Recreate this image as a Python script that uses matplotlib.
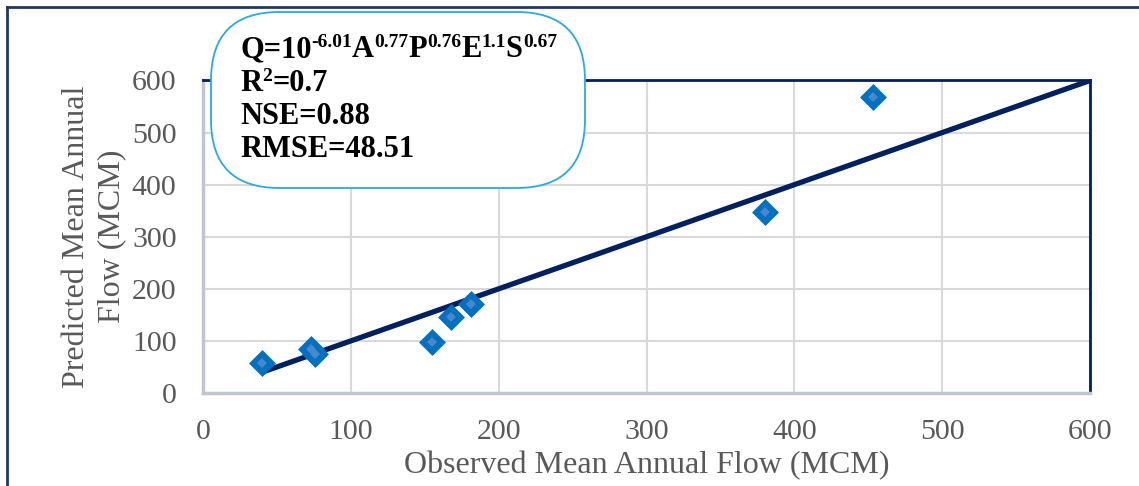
import matplotlib
matplotlib.use("Agg")
import matplotlib.pyplot as plt
from matplotlib.patches import FancyBboxPatch
from matplotlib.lines import Line2D

observed = [40, 73, 76, 155, 168, 181, 380, 453]
predicted = [57, 84, 74, 97, 145, 170, 348, 569]
line_x = [40, 600]
line_y = [40, 600]
ticks = [0, 100, 200, 300, 400, 500, 600]
xlabel = "Observed Mean Annual Flow (MCM)"
ylabel = "Predicted Mean Annual\nFlow (MCM)"
# (text, is_superscript)
eq_line1 = [("Q=10", False), ("-6.01", True), ("A", False), ("0.77", True),
            ("P", False), ("0.76", True), ("E", False), ("1.1", True),
            ("S", False), ("0.67", True)]
eq_line2 = [("R", False), ("2", True), ("=0.7", False)]
eq_line3 = [("NSE=0.88", False)]
eq_line4 = [("RMSE=48.51", False)]

plt.rcParams['font.family'] = ['Liberation Serif', 'DejaVu Serif']

W, H = 1139, 486
fig = plt.figure(figsize=(W / 100, H / 100), dpi=100)
ax = fig.add_axes([203 / W, 1 - 393 / H, 887 / W, 312.5 / H])

ax.set_xlim(0, 600)
ax.set_ylim(0, 600)
ax.set_xticks(ticks)
ax.set_yticks(ticks)
ax.grid(True, color='#d9d9d9', linewidth=1.5)
ax.set_axisbelow(True)
ax.tick_params(length=0, labelsize=21.5, colors='#595959')
ax.tick_params(axis='y', pad=19)
ax.tick_params(axis='x', pad=19)
for s in ['left', 'bottom']:
    ax.spines[s].set_color('#bfc5d2')
    ax.spines[s].set_linewidth(2.5)
for s in ['top', 'right']:
    ax.spines[s].set_color('#002060')
    ax.spines[s].set_linewidth(2)

ax.plot(line_x, line_y, color='#002060', linewidth=3.8, solid_capstyle='butt', zorder=3)
ax.plot(observed, predicted, linestyle='none', marker='D', markersize=11,
        markerfacecolor='#0070c0', markeredgecolor='#0070c0', markeredgewidth=2.5,
        zorder=4)
ax.plot(observed, predicted, linestyle='none', marker='D', markersize=5,
        markerfacecolor='#4a86c8', markeredgewidth=0, zorder=5)

ax.set_xlabel(xlabel, fontsize=23, color='#595959', labelpad=4)
ax.set_ylabel(ylabel, fontsize=23, color='#595959', labelpad=4, linespacing=1.3)

# annotation box
box = FancyBboxPatch((211 / W, 1 - 188 / H), 374 / W, 176 / H,
                     boxstyle="round,pad=0,rounding_size=0.06",
                     transform=fig.transFigure, facecolor='white',
                     edgecolor='#29abe2', linewidth=1.3, zorder=10,
                     mutation_aspect=W / H)
fig.add_artist(box)

renderer = fig.canvas.get_renderer()
base_size = 22
sup_size = 14
baselines = [57, 91, 124, 157]
for pieces, yb in zip([eq_line1, eq_line2, eq_line3, eq_line4], baselines):
    x = 240.0
    for s, sup in pieces:
        ypix = H - yb + (10 if sup else 0)
        t = fig.text(x / W, ypix / H, s, fontsize=sup_size if sup else base_size,
                     fontweight='bold', color='black', va='baseline', ha='left',
                     zorder=11)
        bb = t.get_window_extent(renderer=renderer)
        x = bb.x1

# outer frame (left and top)
fig.add_artist(Line2D([7 / W, 7 / W], [0, 1 - 7 / H], transform=fig.transFigure,
                      color='#1f3864', linewidth=2))
fig.add_artist(Line2D([7 / W, 1], [1 - 7 / H, 1 - 7 / H], transform=fig.transFigure,
                      color='#1f3864', linewidth=2))

fig.savefig("out.png", dpi=100)
